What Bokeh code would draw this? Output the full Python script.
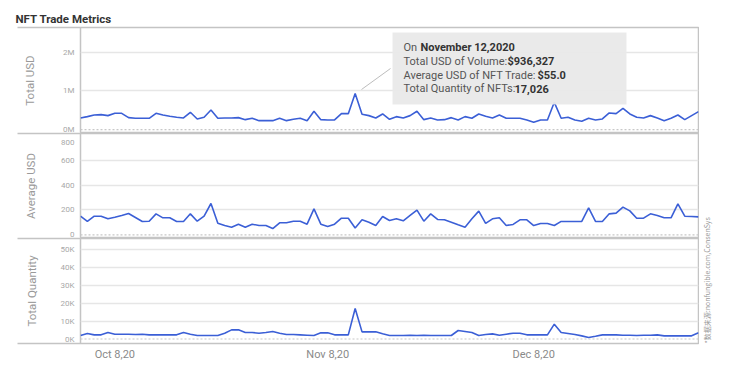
import numpy as np
import pandas as pd
from bokeh.plotting import figure
from bokeh.models import (Range1d, FixedTicker, Label, BoxAnnotation, Arrow, Span, Title,
                          CustomJSTickFormatter, ColumnDataSource)
from bokeh.layouts import column, row
from bokeh.embed import file_html
from bokeh.resources import INLINE

# ---------------- data ----------------
start_date = "2020-10-03"
n_days = 91
dates = pd.date_range(start_date, periods=n_days, freq="D")

total_usd = [301000, 336000, 379000, 387000, 362000, 422000, 422000, 310000, 293000, 293000,
             293000, 422000, 379000, 344000, 319000, 301000, 448000, 276000, 319000, 508000,
             293000, 301000, 301000, 310000, 258000, 293000, 232000, 232000, 232000, 293000,
             232000, 267000, 293000, 232000, 474000, 258000, 250000, 250000, 413000, 413000,
             936327, 396000, 362000, 301000, 405000, 267000, 336000, 301000, 362000, 474000,
             258000, 301000, 250000, 258000, 310000, 250000, 336000, 293000, 405000, 344000,
             301000, 379000, 293000, 293000, 293000, 250000, 189000, 250000, 250000, 706000,
             293000, 319000, 250000, 215000, 293000, 250000, 276000, 431000, 413000, 551000,
             405000, 319000, 301000, 362000, 301000, 232000, 293000, 379000, 258000, 362000,
             465000]

avg_usd = [150, 108, 150, 150, 129, 142, 156, 172, 140, 108,
           110, 169, 137, 137, 108, 108, 169, 110, 150, 252,
           94, 75, 62, 86, 62, 86, 75, 75, 51, 97,
           97, 110, 110, 86, 209, 86, 67, 86, 134, 134,
           55.0, 121, 102, 75, 148, 116, 129, 113, 156, 199,
           110, 169, 124, 121, 102, 81, 62, 129, 191, 92,
           129, 137, 75, 84, 121, 121, 75, 92, 92, 75,
           108, 108, 108, 108, 217, 108, 108, 169, 175, 223,
           193, 134, 134, 169, 156, 137, 137, 249, 150, 148,
           145]

total_qty = [1960, 3070, 2330, 2330, 3630, 2700, 2700, 2700, 2510, 2700,
             2330, 2330, 2330, 2330, 2330, 3630, 2700, 1960, 1960, 1960,
             1960, 3260, 5120, 5120, 3630, 3630, 3260, 3630, 4190, 3260,
             2510, 2510, 2330, 2140, 1960, 3450, 3450, 2330, 2330, 2330,
             17026, 4000, 4000, 4000, 2890, 1960, 1960, 1960, 2140, 1960,
             2140, 1960, 1960, 1960, 1960, 4750, 4190, 3630, 1960, 2510,
             2890, 2140, 2700, 3260, 3260, 2330, 2330, 2330, 2330, 8290,
             3630, 3070, 2510, 1770, 840, 1580, 2330, 2330, 2330, 2140,
             2140, 1960, 2140, 2140, 2330, 1770, 1770, 1770, 1770, 1770,
             3450]

usd_ticks = [0, 1000000, 2000000]
usd_tick_labels = ["0M", "1M", "2M"]
avg_ticks = [0, 200, 400, 600]
avg_tick_labels = ["0", "200", "400", "600"]
avg_top_label = "800"
qty_ticks = [0, 10000, 20000, 30000, 40000, 50000]
qty_tick_labels = ["0K", "10K", "20K", "30K", "40K", "50K"]
x_tick_dates = ["2020-10-08", "2020-11-08", "2020-12-08"]

title_text = "NFT Trade Metrics"
note_text = "*数据来源:nonfungible.com,ConsenSys"
tip_rows = [("On ", "November 12,2020"),
            ("Total USD of Volume:", "$936,327"),
            ("Average USD of NFT Trade:", "$55.0"),
            ("Total Quantity of NFTs:", "17,026")]

# ---------------- style ----------------
FONT = "Roboto"
LINE_COLOR = "#3b5fd6"
BORDER = "#c4c4c4"
GRID = "#e6e6e6"
TICK_COLOR = "#a8a8a8"
AXLABEL_COLOR = "#9a9a9a"
SEP_LEN = 63

src = ColumnDataSource(dict(date=dates, usd=total_usd, avg=avg_usd, qty=total_qty))
x_range = Range1d(start=dates[0], end=dates[-1])

W = 699


def make_panel(height, y_start, y_end, field, ticks, labels, axis_label, label_standoff,
               top=0, bottom=0, x_axis=False, extra_tick=None):
    p = figure(width=W, height=height, x_axis_type="datetime",
               x_range=x_range, y_range=Range1d(y_start, y_end),
               x_axis_location="below" if x_axis else None,
               output_backend="svg", toolbar_location=None, title=None,
               min_border_left=80, min_border_right=1,
               min_border_top=top, min_border_bottom=bottom)
    p.background_fill_color = "white"
    p.border_fill_color = "white"
    p.outline_line_color = BORDER
    p.outline_line_width = 1.5
    p.xgrid.visible = False
    p.ygrid.ticker = FixedTicker(ticks=[t for t in ticks if t != 0])
    p.ygrid.grid_line_color = GRID
    p.ygrid.grid_line_width = 1.5
    ax = p.yaxis[0]
    span = y_end - y_start
    all_ticks = list(ticks)
    overrides = {t: l for t, l in zip(ticks, labels)}
    if extra_tick is not None:
        all_ticks.append(extra_tick[0])
        overrides[extra_tick[0]] = extra_tick[1]
    # minor ticks at the panel edges draw the separator lines reaching left
    ax.ticker = FixedTicker(ticks=all_ticks,
                            minor_ticks=[y_start + span * 0.002, y_end - span * 0.002])
    ax.major_label_overrides = overrides
    ax.major_tick_line_color = None
    ax.major_tick_out = 0
    ax.major_tick_in = 0
    ax.minor_tick_line_color = BORDER
    ax.minor_tick_line_width = 1.5
    ax.minor_tick_out = SEP_LEN
    ax.minor_tick_in = 0
    ax.axis_line_color = None
    ax.major_label_text_font = FONT
    ax.major_label_text_font_size = "8px"
    ax.major_label_text_color = TICK_COLOR
    ax.major_label_standoff = -(SEP_LEN - 6)
    ax.axis_label = axis_label
    ax.axis_label_text_font = FONT
    ax.axis_label_text_font_style = "normal"
    ax.axis_label_text_font_size = "11.5px"
    ax.axis_label_text_color = AXLABEL_COLOR
    ax.axis_label_standoff = label_standoff
    p.add_layout(Span(location=0, dimension="width", line_color="#c8c8c8",
                      line_dash="2 2", line_width=1.2))
    p.line("date", field, source=src, line_color=LINE_COLOR, line_width=1.6)
    return p


# panel 1
f1 = make_panel(133, -100000, 2640000, "usd", usd_ticks, usd_tick_labels, "Total USD", 23,
                top=27)
f1.title = Title(text=title_text, align="left", offset=-65, standoff=4,
                 text_font=FONT, text_font_style="bold", text_font_size="11.5px",
                 text_color="#333333")
# panel 2 (top label sits slightly below the top edge, as in the source)
f2 = make_panel(105, -29, 814, "avg", avg_ticks, avg_tick_labels, "Average USD", 20,
                extra_tick=(745, avg_top_label))
# panel 3
f3 = make_panel(132, -2500, 56100, "qty", qty_ticks, qty_tick_labels, "Total Quantity", 18,
                bottom=27, x_axis=True)
xa = f3.xaxis[0]
xa.ticker = FixedTicker(ticks=[pd.Timestamp(d).value // 10**6 for d in x_tick_dates])
xa.formatter = CustomJSTickFormatter(code="""
const m=['Jan','Feb','Mar','Apr','May','Jun','Jul','Aug','Sep','Oct','Nov','Dec'];
const d=new Date(tick);
return m[d.getUTCMonth()]+' '+d.getUTCDate()+','+String(d.getUTCFullYear()).slice(2);
""")
xa.major_tick_line_color = None
xa.major_tick_out = 0
xa.major_tick_in = 0
xa.minor_tick_line_color = None
xa.axis_line_color = None
xa.major_label_text_font = FONT
xa.major_label_text_font_size = "11px"
xa.major_label_text_color = "#8a8a8a"
xa.major_label_standoff = 4

# tooltip (frame-relative screen units)
f1.add_layout(BoxAnnotation(left=312, right=546, bottom=29, top=101,
                            left_units="screen", right_units="screen",
                            bottom_units="screen", top_units="screen",
                            fill_color="#e9e9e9", fill_alpha=0.95, line_color=None,
                            level="overlay"))
f1.add_layout(Arrow(end=None, x_start=281, y_start=44, x_end=310, y_end=65,
                    start_units="screen", end_units="screen",
                    line_color="#bdbdbd", line_width=1))
row_y = [86, 72, 58, 45]
bold_x = [340, 427, 457, 434]
for (norm, bold), yy, bx in zip(tip_rows, row_y, bold_x):
    f1.add_layout(Label(x=323, y=yy, x_units="screen", y_units="screen", text=norm,
                        text_font=FONT, text_font_size="11px", text_color="#555555",
                        text_baseline="middle", level="overlay"))
    f1.add_layout(Label(x=bx, y=yy, x_units="screen", y_units="screen", text=bold,
                        text_font=FONT, text_font_style="bold", text_font_size="11px",
                        text_color="#333333", text_baseline="middle", level="overlay"))

# source note figure
fn = figure(width=26, height=370, output_backend="svg", toolbar_location=None, title=None,
            x_axis_location=None, y_axis_location=None,
            min_border_left=0, min_border_right=0, min_border_top=0, min_border_bottom=0)
fn.outline_line_color = None
fn.grid.visible = False
fn.add_layout(Label(x=7, y=27, x_units="screen", y_units="screen", text=note_text,
                    angle=np.pi / 2, text_font="Noto Sans CJK SC", text_font_size="7px",
                    text_color="#9a9a9a", text_align="left", text_baseline="middle"))

layout = row(column(f1, f2, f3, spacing=0), fn, spacing=0)

open("out.html", "w").write(file_html(layout, INLINE))
